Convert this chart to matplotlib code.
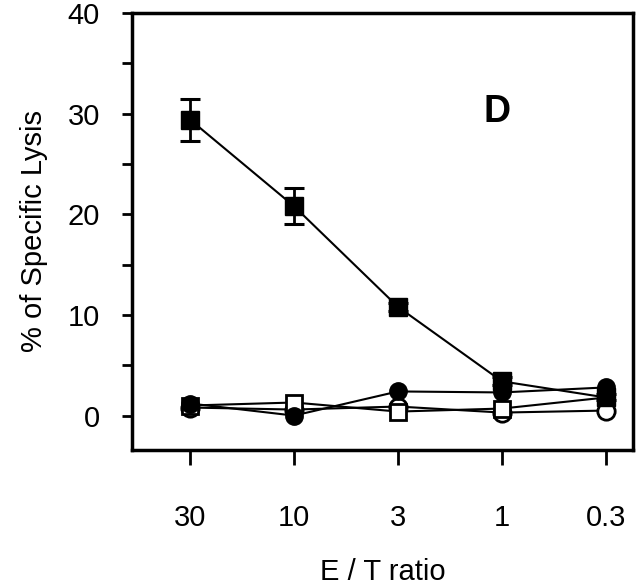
"""
Specific lysis vs E/T ratio, panel D
"""

import matplotlib
matplotlib.use("Agg")
import matplotlib.pyplot as plt
from matplotlib.ticker import MultipleLocator

plt.rcParams['font.family'] = ['Liberation Sans', 'DejaVu Sans']

# Data:
et_labels = ['30', '10', '3', '1', '0.3']
filled_sq = [29.4, 20.8, 10.8, 3.4, 1.8]
filled_sq_err = [2.1, 1.8, 0.4, 0.4, 0.3]
filled_circ = [1.2, 0.0, 2.4, 2.3, 2.8]
open_sq = [1.0, 1.3, 0.4, 0.7, 1.8]
open_circ = [0.8, 0.6, 0.9, 0.3, 0.5]

x = list(range(len(et_labels)))

fig = plt.figure(figsize=(6.4, 5.88), dpi=100)
ax = fig.add_axes([0.206, 0.235, 0.783, 0.743])

lw = 1.5
ms = 12.5
ax.plot(x, open_circ, '-o', color='black', mfc='white', mec='black', mew=2, ms=ms, lw=lw)
ax.plot(x, open_sq, '-s', color='black', mfc='white', mec='black', mew=2, ms=ms - 1, lw=lw)
ax.plot(x, filled_circ, '-o', color='black', ms=ms, lw=lw)
ax.errorbar(x, filled_sq, yerr=filled_sq_err, fmt='-s', color='black', ms=ms, lw=lw,
            elinewidth=2, capsize=7, capthick=2.2)

ax.text(2.95, 30.2, 'D', fontsize=27, fontweight='bold', ha='center', va='center')

ax.set_xlim(-0.56, 4.26)
ax.set_ylim(-3.4, 40)
ax.set_xticks(x)
ax.set_xticklabels(et_labels)
ax.yaxis.set_major_locator(MultipleLocator(10))
ax.yaxis.set_minor_locator(MultipleLocator(5))
ax.tick_params(axis='x', direction='out', length=11, width=2, pad=28, labelsize=21)
ax.tick_params(axis='y', which='both', direction='out', length=7, width=2, labelsize=21, pad=16)
for s in ax.spines.values():
    s.set_linewidth(2.5)

ax.set_xlabel('E / T ratio', fontsize=21, labelpad=19)
ax.set_ylabel('% of Specific Lysis', fontsize=21, labelpad=14)

fig.savefig('out.png', dpi=100)
